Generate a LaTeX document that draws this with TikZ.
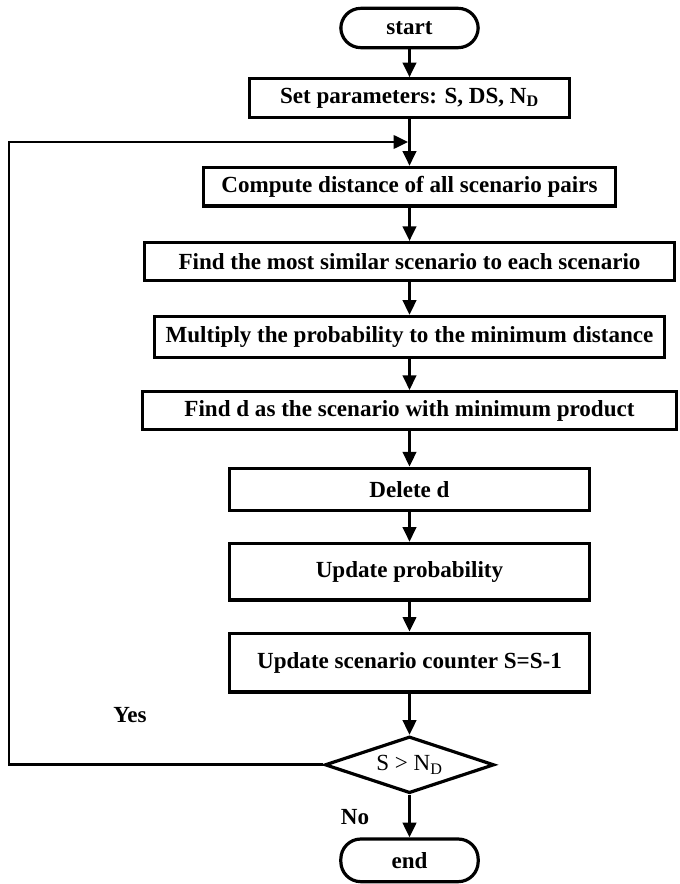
\documentclass[tikz,border=0pt]{standalone}
\usepackage{fontspec}
\setmainfont{Liberation Serif}
\usetikzlibrary{arrows.meta,positioning,shapes.geometric}

\begin{document}
\begin{tikzpicture}[
    x=0.75pt, y=-0.75pt,
    font=\fontsize{17.3}{20}\selectfont\bfseries,
    node distance=25pt,
    box/.style={draw, line width=2.4pt, inner sep=2pt, align=center},
    terminal/.style={box, rounded corners=15pt, minimum width=103pt},
    decision/.style={draw, diamond, aspect=3.4, line width=2.4pt, inner sep=0pt,
      minimum width=127pt, minimum height=42.5pt,
      font=\fontsize{17.3}{20}\selectfont},
    arrow/.style={-{Triangle[length=11pt, width=10pt]}, line width=2.2pt}
  ]
  \useasboundingbox (0,0) rectangle (679,884);

  \node[terminal, minimum height=29.5pt] (start) at (409.5,28) {start};

  \node[box, below=21pt of start, minimum width=240pt, minimum height=29pt]
    (params) {Set parameters: S, DS, N\textsubscript{D}};

  \node[box, below=35pt of params, minimum width=309pt, minimum height=29pt]
    (dist) {Compute distance of all scenario pairs};

  \node[box, below=of dist, minimum width=398pt, minimum height=28.5pt]
    (similar) {Find the most similar scenario to each scenario};

  \node[box, below=24.5pt of similar, minimum width=383pt, minimum height=30.5pt]
    (multiply) {Multiply the probability to the minimum distance};

  \node[box, below=23.5pt of multiply, minimum width=401pt, minimum height=28.5pt]
    (findd) {Find d as the scenario with minimum product};

  \node[box, below=26.5pt of findd, minimum width=270pt, minimum height=31.5pt]
    (delete) {Delete d};

  \node[box, below=22.5pt of delete, minimum width=270pt, minimum height=42.5pt]
    (prob) {Update probability};

  \node[box, below=22.5pt of prob, minimum width=270pt, minimum height=44pt]
    (counter) {Update scenario counter S=S-1};

  \node[decision, below=31pt of counter] (check) {S > N\textsubscript{D}};

  \node[terminal, below=32pt of check, minimum height=32pt] (finish) {end};

  \node (yes) at (130,715) {Yes};
  \node (no) at (355,817) {No};

  \coordinate (corner) at (9,142);
  \coordinate (join) at (params.south |- corner);

  \draw[arrow] (start) -- (params);
  \draw[arrow] (params) -- (dist);
  \draw[arrow] (dist) -- (similar);
  \draw[arrow] (similar) -- (multiply);
  \draw[arrow] (multiply) -- (findd);
  \draw[arrow] (findd) -- (delete);
  \draw[arrow] (delete) -- (prob);
  \draw[arrow] (prob) -- (counter);
  \draw[arrow] (counter) -- (check);
  \draw[arrow] (check) -- (finish);
  \draw[arrow] (check.west) -| (corner) -- ([xshift=-1pt]join);
\end{tikzpicture}
\end{document}
